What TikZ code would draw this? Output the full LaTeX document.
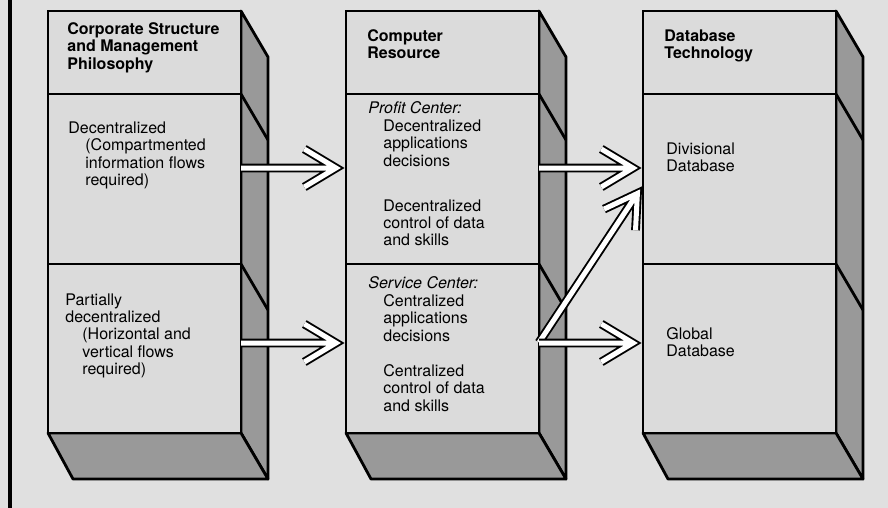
\documentclass[tikz,border=0pt]{standalone}
\usepackage{fontspec}
\setmainfont{TeX Gyre Heros}
\usepackage{xcolor}
\usepackage{tikz}
\definecolor{paper}{gray}{0.88}
\definecolor{front}{gray}{0.86}
\definecolor{shade}{gray}{0.6}

\begin{document}
\begin{tikzpicture}[
  x=0.5pt, y=-0.5pt,
  font=\fontsize{8}{8.7}\selectfont,
  face/.style={draw, line width=1.4pt, fill=front, minimum width=96.5pt, anchor=north west, inner sep=0pt, outer sep=0pt},
  side/.style={draw, line width=1.4pt, fill=shade, line join=round},
  txt/.style={anchor=north west, align=left, inner sep=0pt},
  head/.style={txt, font=\fontsize{8}{8.7}\selectfont\bfseries},
  hollow/.style={draw, line width=0.95pt, double=white, double distance=2.5pt, line join=miter}
]
\useasboundingbox (0,0) rectangle (888,508);
\fill[paper] (0,0) rectangle (888,508);
\draw[line width=2pt] (10,0) -- (10,508);

% the three columns
\foreach \n/\xl in {1/48, 2/346, 3/643} {
  \draw[side] (\xl+193,11) -- (\xl+220,57) -- (\xl+220,479) -- (\xl+193,433) -- cycle;
  \draw[side] (\xl,433) -- (\xl+193,433) -- (\xl+220,479) -- (\xl+25,479) -- cycle;
  \draw[line width=1.4pt] (\xl+193,94) -- (\xl+220,140);
  \draw[line width=1.4pt] (\xl+193,264) -- (\xl+220,310);
  \node[face, minimum height=41.5pt] (h\n) at (\xl,11) {};
  \node[face, minimum height=85pt] (u\n) at (\xl,94) {};
  \node[face, minimum height=84.5pt] (l\n) at (\xl,264) {};
}

\node[head] (corp) at (67,22) {Corporate Structure\\and Management\\Philosophy};
\node[txt] (dec) at (68,121.5) {Decentralized\\\hspace*{8.5pt}(Compartmented\\\hspace*{8.5pt}information flows\\\hspace*{8.5pt}required)};
\node[txt] (pdec) at (65,293) {Partially\\decentralized\\\hspace*{8.5pt}(Horizontal and\\\hspace*{8.5pt}vertical flows\\\hspace*{8.5pt}required)};

\node[head] (comp) at (367,29) {Computer\\Resource};
\node[txt] (profit) at (368,101.5) {\textit{Profit Center:}\\\hspace*{7.5pt}Decentralized\\\hspace*{7.5pt}applications\\\hspace*{7.5pt}decisions\\[13.8pt]\hspace*{7.5pt}Decentralized\\\hspace*{7.5pt}control of data\\\hspace*{7.5pt}and skills};
\node[txt] (service) at (368,276.5) {\textit{Service Center:}\\\hspace*{7.5pt}Centralized\\\hspace*{7.5pt}applications\\\hspace*{7.5pt}decisions\\[9pt]\hspace*{7.5pt}Centralized\\\hspace*{7.5pt}control of data\\\hspace*{7.5pt}and skills};

\node[head] (dbtech) at (664,29) {Database\\Technology};
\node[txt] (divdb) at (666,142.5) {Divisional\\Database};
\node[txt] (globdb) at (666,327) {Global\\Database};

% hollow arrows
\draw[hollow] ([yshift=5.5pt]u1.east) -- ([xshift=-5pt,yshift=5.5pt]u2.west) coordinate (ta) ++(-31.7,-19) -- (ta) -- ++(-31.7,19);
\draw[hollow] ([yshift=2.75pt]l1.east) -- ([xshift=-5pt,yshift=2.75pt]l2.west) coordinate (tb) ++(-31.7,-19) -- (tb) -- ++(-31.7,19);
\draw[hollow] ([yshift=3pt]l2.east) -- ([xshift=-2.8pt,yshift=-7.2pt]u3.west) coordinate (td) ++(-1.9,36.9) -- (td) -- ++(-33.4,15.7);
\draw[hollow] ([yshift=5.5pt]u2.east) -- ([xshift=-5pt,yshift=5.5pt]u3.west) coordinate (tc) ++(-31.7,-19) -- (tc) -- ++(-31.7,19);
\draw[hollow] ([yshift=2.75pt]l2.east) -- ([xshift=-5pt,yshift=2.75pt]l3.west) coordinate (te) ++(-31.7,-19) -- (te) -- ++(-31.7,19);
\end{tikzpicture}
\end{document}
